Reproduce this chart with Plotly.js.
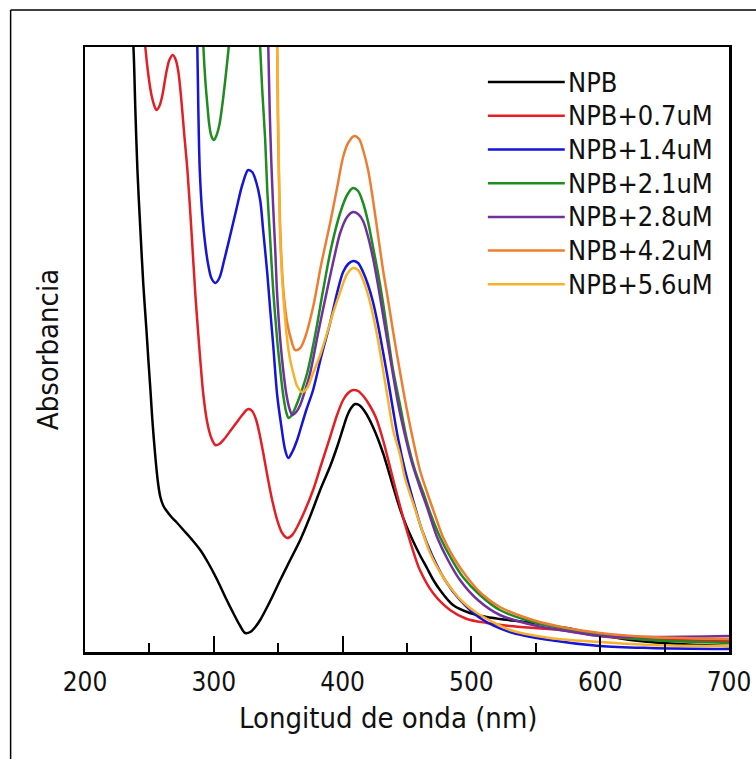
<!DOCTYPE html>
<html>
<head>
<meta charset="utf-8">
<script src="https://cdn.plot.ly/plotly-3.0.1.min.js"></script>
<style>html,body{margin:0;padding:0;background:#fff;}#chart{width:756px;height:759px;}</style>
</head>
<body>
<div id="chart"></div>
<script>
// Series names and colours
const seriesNames = ["NPB", "NPB+0.7uM", "NPB+1.4uM", "NPB+2.1uM", "NPB+2.8uM", "NPB+4.2uM", "NPB+5.6uM"];
const seriesColors = ["#000000", "#e31e24", "#1414dc", "#1e8c1e", "#7030a0", "#ed7d31", "#f7b22a"];

// Wavelength (nm) and absorbance (a.u.)
const npbX = [236.0, 237.6, 239.1, 240.7, 243.0, 245.3, 247.7, 249.2, 250.8, 252.3, 254.7, 256.6, 258.5, 260.9, 264.0, 267.8, 270.9, 276.4, 283.3, 289.5, 295.7, 302.7, 308.9, 315.1, 320.5, 324.4, 328.3, 332.2, 336.0, 343.8, 351.6, 359.3, 367.1, 374.9, 382.6, 390.4, 395.7, 400.4, 403.5, 406.6, 409.7, 412.8, 417.5, 423.6, 431.4, 436.8, 440.7, 444.6, 449.5, 454.7, 460.0, 465.5, 470.0, 475.6, 485.7, 498.8, 512.0, 522.1, 547.7, 574.0, 599.6, 630.6, 661.6, 700];
const npbY = [1.264, 1.21, 1.084, 0.964, 0.844, 0.734, 0.644, 0.584, 0.524, 0.464, 0.388, 0.34, 0.31, 0.292, 0.28, 0.268, 0.26, 0.244, 0.224, 0.204, 0.178, 0.144, 0.11, 0.078, 0.052, 0.038, 0.04, 0.05, 0.064, 0.102, 0.144, 0.184, 0.224, 0.272, 0.324, 0.372, 0.41, 0.448, 0.472, 0.488, 0.496, 0.494, 0.48, 0.45, 0.398, 0.352, 0.318, 0.286, 0.252, 0.222, 0.194, 0.168, 0.146, 0.124, 0.094, 0.078, 0.07, 0.066, 0.058, 0.048, 0.034, 0.022, 0.016, 0.012];

const npb07X = [245.3, 246.9, 249.2, 251.6, 253.9, 255.4, 257.8, 260.1, 263.2, 265.5, 268.2, 270.5, 272.5, 274.8, 277.1, 279.5, 282.6, 285.7, 288.0, 289.5, 291.9, 295.0, 298.1, 301.2, 304.3, 308.1, 312.8, 317.4, 322.1, 326.7, 329.8, 332.9, 336.0, 339.1, 342.2, 345.3, 349.2, 353.1, 357.0, 360.9, 364.7, 370.9, 377.1, 383.3, 390.3, 395.7, 400.4, 404.3, 408.1, 412.0, 416.7, 421.3, 426.0, 431.4, 436.8, 440.7, 444.6, 448.5, 452.3, 456.0, 460.0, 470.2, 483.4, 496.5, 512.0, 529.8, 568.6, 599.6, 630.6, 700];
const npb07Y = [1.264, 1.208, 1.154, 1.114, 1.092, 1.084, 1.092, 1.114, 1.16, 1.184, 1.194, 1.184, 1.16, 1.104, 1.034, 0.964, 0.844, 0.714, 0.634, 0.584, 0.514, 0.458, 0.428, 0.414, 0.416, 0.426, 0.442, 0.458, 0.474, 0.486, 0.482, 0.464, 0.43, 0.388, 0.344, 0.304, 0.264, 0.238, 0.228, 0.234, 0.25, 0.284, 0.324, 0.374, 0.43, 0.474, 0.504, 0.518, 0.524, 0.522, 0.51, 0.492, 0.468, 0.424, 0.37, 0.33, 0.292, 0.255, 0.222, 0.192, 0.164, 0.118, 0.084, 0.066, 0.058, 0.052, 0.044, 0.032, 0.026, 0.022];

const npb14X = [286.4, 287.2, 288.0, 289.1, 291.1, 293.4, 295.7, 298.1, 301.2, 304.3, 308.1, 312.8, 317.4, 322.1, 326.7, 329.8, 332.9, 336.0, 338.3, 341.5, 343.8, 346.1, 349.2, 352.3, 355.4, 357.8, 360.9, 364.7, 367.1, 371.8, 377.1, 383.3, 390.3, 395.7, 400.4, 404.3, 408.1, 412.0, 415.9, 419.8, 423.6, 427.5, 431.4, 435.3, 439.2, 443.0, 448.4, 454.7, 461.6, 469.4, 479.5, 491.1, 506.6, 529.8, 560.8, 599.6, 638.4, 700];
const npb14Y = [1.264, 1.21, 1.084, 0.964, 0.874, 0.814, 0.774, 0.748, 0.738, 0.748, 0.784, 0.834, 0.884, 0.934, 0.964, 0.96, 0.94, 0.904, 0.844, 0.758, 0.684, 0.614, 0.514, 0.454, 0.404, 0.388, 0.4, 0.424, 0.444, 0.484, 0.524, 0.59, 0.658, 0.718, 0.76, 0.776, 0.782, 0.778, 0.76, 0.734, 0.7, 0.654, 0.6, 0.544, 0.484, 0.428, 0.364, 0.304, 0.244, 0.194, 0.144, 0.104, 0.068, 0.04, 0.024, 0.012, 0.008, 0.006];

const npb21X = [291.1, 291.9, 293.4, 295.0, 296.5, 298.1, 300.0, 301.9, 304.3, 306.6, 308.9, 311.2, 312.8, 314.3, 324.4, 334.5, 336.0, 337.6, 339.9, 341.5, 343.8, 346.1, 349.2, 351.6, 353.9, 356.2, 358.1, 360.1, 363.2, 367.1, 372.5, 378.7, 384.9, 391.1, 398.1, 403.5, 408.1, 412.0, 415.9, 419.8, 423.6, 427.5, 431.4, 435.3, 439.2, 444.6, 450.0, 456.2, 462.4, 468.6, 475.6, 484.1, 493.4, 506.6, 522.1, 547.7, 574.0, 599.6, 638.4, 700];
const npb21Y = [1.264, 1.21, 1.144, 1.094, 1.054, 1.032, 1.024, 1.032, 1.054, 1.094, 1.144, 1.2, 1.244, 1.284, 1.5, 1.284, 1.21, 1.124, 1.024, 0.924, 0.824, 0.724, 0.624, 0.564, 0.514, 0.48, 0.468, 0.472, 0.488, 0.514, 0.558, 0.634, 0.724, 0.808, 0.878, 0.914, 0.928, 0.922, 0.898, 0.86, 0.81, 0.758, 0.698, 0.63, 0.564, 0.494, 0.424, 0.364, 0.32, 0.274, 0.23, 0.188, 0.15, 0.114, 0.084, 0.06, 0.046, 0.034, 0.024, 0.018];

const npb28X = [341.5, 342.3, 343.4, 344.6, 346.1, 347.7, 349.2, 351.6, 353.9, 356.2, 358.6, 360.9, 364.0, 367.1, 371.0, 374.8, 381.0, 388.0, 393.4, 398.1, 403.5, 408.1, 412.0, 415.9, 419.8, 423.6, 427.5, 431.4, 435.3, 439.2, 443.0, 448.4, 453.9, 460.0, 466.3, 473.3, 481.8, 491.1, 505.0, 522.1, 547.7, 574.0, 599.6, 638.4, 700];
const npb28Y = [1.264, 1.21, 1.084, 0.984, 0.89, 0.804, 0.714, 0.624, 0.564, 0.518, 0.488, 0.474, 0.48, 0.494, 0.524, 0.558, 0.638, 0.724, 0.788, 0.838, 0.87, 0.88, 0.876, 0.862, 0.83, 0.788, 0.734, 0.674, 0.614, 0.554, 0.498, 0.434, 0.378, 0.33, 0.284, 0.23, 0.184, 0.144, 0.104, 0.074, 0.054, 0.042, 0.032, 0.03, 0.032];

const npb42X = [348.4, 349.2, 349.6, 350.0, 350.8, 351.6, 353.1, 354.7, 357.0, 360.1, 363.2, 367.1, 371.0, 377.1, 383.3, 390.3, 395.7, 400.4, 404.3, 409.0, 412.8, 415.9, 419.8, 423.6, 427.5, 431.4, 435.3, 439.9, 444.6, 449.2, 454.7, 460.0, 465.5, 471.7, 477.9, 486.4, 496.5, 508.1, 522.1, 547.7, 574.0, 599.6, 638.4, 700];
const npb42Y = [1.264, 1.21, 1.104, 1.024, 0.924, 0.844, 0.758, 0.704, 0.658, 0.624, 0.604, 0.608, 0.63, 0.69, 0.774, 0.858, 0.928, 0.99, 1.018, 1.032, 1.026, 1.004, 0.964, 0.904, 0.834, 0.764, 0.704, 0.63, 0.56, 0.494, 0.424, 0.364, 0.32, 0.274, 0.23, 0.188, 0.15, 0.116, 0.09, 0.064, 0.048, 0.038, 0.03, 0.026];

const npb56X = [348.4, 349.2, 350.0, 350.8, 351.6, 353.9, 357.0, 359.3, 361.7, 364.7, 368.6, 372.5, 377.1, 382.6, 388.0, 392.6, 398.1, 403.5, 408.1, 412.0, 415.9, 419.8, 423.6, 427.5, 431.4, 435.3, 439.2, 444.6, 448.4, 454.7, 461.6, 467.9, 475.6, 483.4, 493.4, 504.3, 516.7, 529.8, 560.8, 599.6, 638.4, 700];
const npb56Y = [1.264, 1.21, 1.064, 0.924, 0.824, 0.714, 0.624, 0.584, 0.558, 0.532, 0.52, 0.528, 0.558, 0.594, 0.638, 0.678, 0.72, 0.756, 0.768, 0.764, 0.744, 0.714, 0.674, 0.624, 0.564, 0.504, 0.444, 0.394, 0.348, 0.298, 0.244, 0.198, 0.16, 0.13, 0.1, 0.078, 0.06, 0.044, 0.028, 0.02, 0.014, 0.012];

const xTickVals = [200, 300, 400, 500, 600, 700];
const xTickText = ["200", "300", "400", "500", "600", "700"];
const xTitle = "Longitud de onda (nm)";
const yTitle = "Absorbancia";

const xs = [npbX, npb07X, npb14X, npb21X, npb28X, npb42X, npb56X];
const ys = [npbY, npb07Y, npb14Y, npb21Y, npb28Y, npb42Y, npb56Y];

const FONT = "DejaVu Sans Condensed, DejaVu Sans, sans-serif";
const TXT = "#111";

const traces = seriesNames.map((name, i) => ({
  type: "scatter",
  mode: "lines",
  name: name,
  x: xs[i],
  y: ys[i],
  line: {color: seriesColors[i], width: 2.5, shape: "spline", smoothing: 0.9},
  showlegend: false
}));

// Custom legend (long line samples like the reference)
const shapes = [];
const annotations = [];
const legX0 = 0.6256, legX1 = 0.745, legTextX = 0.7465;
const legY0 = 0.942, legStep = 0.0557;
seriesNames.forEach((name, i) => {
  const yy = legY0 - i * legStep;
  shapes.push({type: "line", xref: "paper", yref: "paper", x0: legX0, x1: legX1, y0: yy, y1: yy,
    line: {color: seriesColors[i], width: 2.5}});
  annotations.push({xref: "paper", yref: "paper", x: legTextX, y: yy, xanchor: "left", yanchor: "middle",
    text: name, showarrow: false, font: {family: FONT, size: 27, color: TXT}});
});
// x-axis title (placed as in the reference, slightly left of the plot centre)
annotations.push({xref: "paper", yref: "paper", x: 0.4705, y: -0.109, xanchor: "center", yanchor: "middle",
  text: xTitle, showarrow: false, font: {family: FONT, size: 29, color: TXT}});
// Outer frame of the figure
shapes.push({type: "line", xref: "paper", yref: "paper", x0: -0.1155, x1: 1.05, y0: 1.0612, y1: 1.0612, line: {color: "#000", width: 1.5}});
shapes.push({type: "line", xref: "paper", yref: "paper", x0: -0.1155, x1: -0.1155, y0: 1.0612, y1: -0.2, line: {color: "#000", width: 1.5}});

const layout = {
  width: 756, height: 759,
  margin: {l: 84.5, r: 27, t: 47, b: 107},
  paper_bgcolor: "#fff", plot_bgcolor: "#fff",
  font: {family: FONT, size: 26, color: TXT},
  xaxis: {
    range: [200, 700], showgrid: false, zeroline: false,
    showline: true, linecolor: "#000", linewidth: 2.5, mirror: true,
    tickmode: "array", tickvals: xTickVals, ticktext: xTickText,
    ticks: "inside", ticklen: 16, tickwidth: 2, tickcolor: "#000",
    ticklabelstandoff: 5,
    minor: {ticks: "inside", ticklen: 9, tickwidth: 2, tickcolor: "#000", dtick: 50, showgrid: false},
    tickfont: {family: FONT, size: 26, color: TXT}
  },
  yaxis: {
    range: [0, 1.21], showgrid: false, zeroline: false,
    showline: true, linecolor: "#000", linewidth: 2.5, mirror: true,
    showticklabels: false, ticks: "",
    title: {text: yTitle, font: {family: FONT, size: 29, color: TXT}, standoff: 16}
  },
  shapes: shapes,
  annotations: annotations,
  showlegend: false
};

Plotly.newPlot("chart", traces, layout, {displayModeBar: false, staticPlot: true});
</script>
</body>
</html>
